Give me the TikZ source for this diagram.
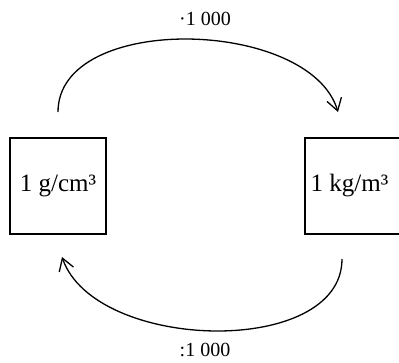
\documentclass[tikz,border=0pt]{standalone}
\usepackage{fontspec}
\setmainfont{Liberation Serif}
\usetikzlibrary{arrows.meta}
\begin{document}
\begin{tikzpicture}[x=1pt,y=-1pt,
  box/.style={draw,line width=1.3pt,minimum width=96pt,minimum height=96pt,inner sep=0pt},
  boxtext/.style={font=\fontsize{25}{30}\selectfont,inner sep=0pt},
  lbl/.style={font=\fontsize{20}{24}\selectfont,inner sep=0pt},
  arc/.style={line width=1.3pt,-{Straight Barb[length=12pt,width=15pt,line width=1.3pt]}}]
\useasboundingbox (0,0) rectangle (399,362);
\node[box] (b1) at (58,186) {};
\node[box] (b2) at (353,186) {};
\node[boxtext] (t1) at (58,186) {1 g/cm³};
\node[boxtext] (t2) at (349.5,186) {1 kg/m³};
\coordinate (a1) at (58,112);
\coordinate (a2) at (338,112);
\coordinate (c1) at (342,259);
\coordinate (c2) at (62,257);
\draw[arc] (a1) .. controls (58,12) and (310,18) .. (a2);
\draw[arc] (c1) .. controls (342,358) and (95,352) .. (c2);
\node[lbl] (l1) at (205,19) {·1 000};
\node[lbl] (l2) at (205,350) {:1 000};
\end{tikzpicture}
\end{document}
